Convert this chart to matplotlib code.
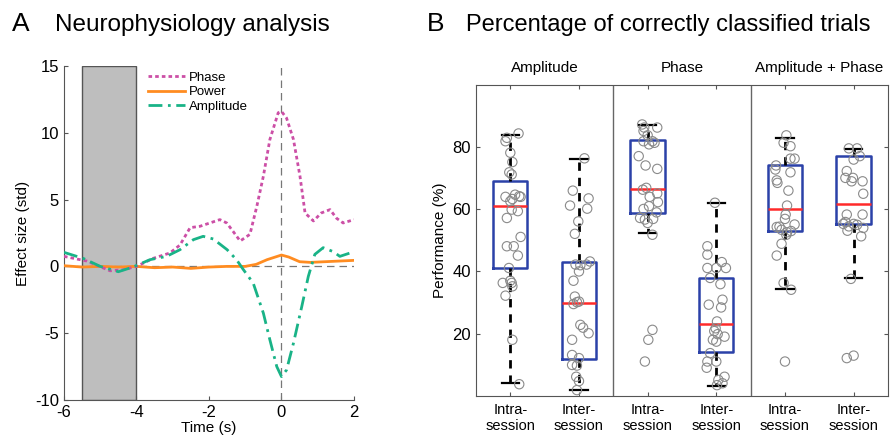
import matplotlib.pyplot as plt
import numpy as np

plt.rcParams['font.family'] = ['Liberation Sans', 'DejaVu Sans']
plt.rcParams['axes.unicode_minus'] = False

# ---- panel A data ----
t_phase = [-6, -5.37, -4.73, -4.36, -4.0, -3.54, -3.08, -2.8, -2.52, -2.25, -1.7, -1.51,
           -1.33, -1.14, -0.87, -0.68, -0.5, -0.32, -0.09, 0.0, 0.14, 0.33, 0.51, 0.65,
           0.88, 1.1, 1.34, 1.52, 1.7, 2.0]
phase = [0.75, 0.4, -0.33, -0.25, 0.0, 0.6, 1.0, 1.6, 2.9, 3.0, 3.5, 3.25,
         2.6, 1.9, 2.4, 4.5, 6.75, 9.5, 11.5, 11.6, 11.1, 9.5, 6.75, 4.0,
         3.4, 4.0, 4.25, 3.6, 3.25, 3.5]

t_amp = [-6, -5.47, -5.0, -4.5, -4.1, -3.63, -3.17, -2.8, -2.43, -2.16, -1.88, -1.5,
         -1.24, -1.05, -0.78, -0.5, -0.32, -0.13, 0.0, 0.14, 0.33, 0.56, 0.74, 0.92,
         1.15, 1.43, 1.61, 2.0]
amp = [1.05, 0.6, 0.0, -0.4, -0.05, 0.5, 0.75, 1.25, 2.0, 2.25, 2.05, 1.25,
       0.5, -0.25, -1.25, -3.5, -5.5, -7.5, -8.25, -7.75, -5.75, -3.0, -0.75, 0.9,
       1.4, 1.1, 0.75, 1.1]

t_pow = [-6, -5.5, -5, -4.5, -4, -3.5, -3, -2.5, -2, -1.5, -1, -0.7, -0.4, 0, 0.2,
         0.5, 0.8, 1.2, 1.6, 2]
power = [0.05, -0.05, 0.0, -0.05, 0.0, -0.1, -0.05, -0.15, -0.05, 0.0, 0.0, 0.15, 0.5,
         0.85, 0.7, 0.35, 0.3, 0.35, 0.4, 0.45]

baseline = (-5.5, -4.0)

# ---- panel B data ----
groups = ['Amplitude', 'Phase', 'Amplitude + Phase']
tick_labels = ['Intra-\nsession', 'Inter-\nsession'] * 3
# whislo, q1, med, q3, whishi
box_lo = [4.0, 1.8, 52.3, 3.1, 34.3, 38.0]
box_q1 = [41.0, 11.9, 58.9, 14.0, 53.0, 55.2]
box_med = [61.0, 29.9, 66.6, 23.0, 60.0, 61.6]
box_q3 = [69.0, 43.0, 82.3, 37.9, 74.1, 77.1]
box_hi = [84.0, 76.1, 87.0, 62.1, 83.1, 79.3]

pts_amp_intra = [84.4, 83.0, 81.9, 78.2, 75.2, 71.9, 71.2, 64.0, 63.3, 64.7, 64.2, 64.0, 62.6, 59.9,
                 59.4, 57.2, 51.1, 48.1, 48.1, 45.1, 41.1, 37.0, 36.3, 36.3, 35.2, 32.2, 18.0, 3.7]
jit_amp_intra = [0.12, -0.05, -0.07, 0, 0.03, -0.015, 0.02, -0.07, 0.03, 0.07, 0.13, 0.15, 0, 0.02,
                 0.11, -0.05, 0.15, -0.05, 0.05, 0.11, -0.02, 0, -0.11, 0.02, 0.03, -0.07, 0.03, 0.13]
pts_amp_inter = [76.4, 66.0, 63.5, 61.2, 60.2, 56.1, 52.1, 42.2, 42.0, 42.2, 43.2, 40.0, 37.0, 31.9,
                 29.5, 30.3, 30.1, 22.8, 21.9, 20.1, 18.0, 13.1, 12.1, 9.9, 9.7, 6.1, 4.7, 1.8]
jit_amp_inter = [0.08, -0.09, 0.14, -0.13, 0.12, -0.01, -0.06, -0.05, 0.02, 0.11, 0.16, 0, -0.08, -0.06,
                 -0.08, 0, -0.03, 0.02, 0.06, 0.14, -0.1, -0.1, 0, -0.1, -0.03, -0.04, 0, -0.03]
pts_ph_intra = [87.3, 86.3, 86.3, 85.2, 83.8, 81.9, 81.9, 80.9, 81.4, 77.1, 74.1, 73.0, 66.9, 66.3,
                64.0, 65.1, 62.3, 61.0, 60.1, 59.0, 57.2, 56.7, 56.9, 55.6, 51.8, 21.2, 18.0, 11.0]
jit_ph_intra = [-0.08, -0.05, 0.14, -0.06, 0, 0.07, -0.06, 0.02, 0.1, -0.13, -0.03, 0.14, -0.02, -0.07,
                0.03, 0.14, 0.15, 0.02, -0.06, 0.13, -0.11, -0.04, 0.08, 0, 0.07, 0.07, 0.01, -0.04]
pts_ph_inter = [62.1, 48.1, 45.4, 41.1, 41.1, 43.0, 41.1, 37.9, 35.9, 30.9, 29.3, 28.4, 23.9, 21.7,
                19.8, 19.0, 17.4, 13.7, 11.0, 11.0, 9.0, 5.1, 6.1, 4.0, 3.4, 18.0, 20.8]
jit_ph_inter = [-0.02, -0.13, -0.13, 0, -0.13, 0.08, 0.14, -0.09, 0.06, 0.09, -0.11, 0.07, 0.01, -0.01,
                0.02, 0.12, 0, -0.09, -0.13, 0, -0.14, 0.03, 0.12, 0.09, 0.01, -0.05, -0.03]
pts_ap_intra = [83.8, 81.4, 80.3, 76.3, 76.3, 74.1, 72.8, 71.9, 69.3, 68.5, 66.0, 61.2, 58.3, 56.9,
                55.1, 54.3, 54.4, 53.4, 52.6, 53.0, 51.8, 48.9, 45.1, 36.3, 34.1, 11.0]
jit_ap_intra = [0.02, -0.02, 0.08, 0.08, 0.14, -0.13, -0.14, 0.08, -0.12, -0.11, 0.05, 0.03, 0.01, 0,
                0.14, -0.12, -0.08, -0.05, 0.03, 0.09, 0.02, -0.05, -0.12, -0.02, 0.09, 0]
pts_ap_inter = [79.6, 79.6, 76.0, 77.1, 72.3, 70.1, 70.1, 69.0, 69.0, 65.0, 58.3, 58.3, 55.9, 55.3,
                55.3, 55.0, 54.5, 53.1, 54.0, 51.3, 37.6, 12.1, 12.9]
jit_ap_inter = [-0.07, 0.05, 0, 0.09, -0.1, -0.12, -0.01, -0.03, 0.13, 0.14, -0.1, 0.13, -0.12, -0.15,
                0, 0.05, -0.07, -0.09, 0.14, 0.11, -0.04, -0.1, 0]

points = [pts_amp_intra, pts_amp_inter, pts_ph_intra, pts_ph_inter, pts_ap_intra, pts_ap_inter]
jitter = [jit_amp_intra, jit_amp_inter, jit_ph_intra, jit_ph_inter, jit_ap_intra, jit_ap_inter]

fig = plt.figure(figsize=(8.91, 4.37), dpi=100)

# ================= panel A =================
axA = fig.add_axes([0.0718, 0.0847, 0.3255, 0.7643])
axA.axvspan(baseline[0], baseline[1], facecolor='#bebebe', edgecolor='#555555', lw=1.0, zorder=1)
axA.axhline(0, color='#777777', lw=0.9, ls=(0, (6, 4)), zorder=2)
axA.axvline(0, color='#777777', lw=0.9, ls=(0, (6, 4)), zorder=2)
axA.plot(t_phase, phase, color='#cc4fa6', lw=2, ls=(0, (1.3, 1.1)), label='Phase', zorder=4)
axA.plot(t_pow, power, color='#ff8c21', lw=2, label='Power', zorder=3)
axA.plot(t_amp, amp, color='#19b387', lw=2, ls=(0, (5, 2, 1, 2)), label='Amplitude', zorder=4)
axA.set_xlim(-6, 2)
axA.set_ylim(-10, 15)
axA.set_xticks([-6, -4, -2, 0, 2])
axA.set_yticks([-10, -5, 0, 5, 10, 15])
axA.spines['top'].set_visible(False)
axA.spines['right'].set_visible(False)
for s in ['left', 'bottom']:
    axA.spines[s].set_color('#555555')
axA.tick_params(direction='in', labelsize=12, length=3, color='#555555')
axA.set_xlabel('Time (s)', fontsize=11, labelpad=1)
axA.set_ylabel('Effect size (std)', fontsize=11, labelpad=4)
axA.legend(loc='upper left', bbox_to_anchor=(0.25, 1.018), frameon=False, fontsize=9.5,
           handlelength=2.8, handletextpad=0.3, labelspacing=0.15)
fig.text(0.013, 0.93, 'A', fontsize=19)
fig.text(0.216, 0.928, 'Neurophysiology analysis', fontsize=17.5, ha='center')

# ================= panel B =================
axB = fig.add_axes([0.5342, 0.0945, 0.4624, 0.711])
pos = np.arange(1, 7)
stats = []
for i in range(6):
    stats.append(dict(whislo=box_lo[i], q1=box_q1[i], med=box_med[i], q3=box_q3[i], whishi=box_hi[i]))
axB.bxp(stats, positions=pos, widths=0.5, showfliers=False, capwidths=0.25,
        boxprops=dict(color='#2b41a8', lw=1.8),
        medianprops=dict(color='#ff2a2a', lw=1.8),
        whiskerprops=dict(color='black', lw=2, ls=(0, (3, 2.5))),
        capprops=dict(color='black', lw=1.6))
for i in range(6):
    axB.scatter(pos[i] + np.array(jitter[i]), points[i], s=45, facecolors='none',
                edgecolors='#8a8a8a', linewidths=0.8, zorder=5)
for xd in [2.5, 4.5]:
    axB.axvline(xd, color='#666666', lw=1.0)
axB.set_xlim(0.5, 6.5)
axB.set_ylim(0, 100)
axB.set_yticks([20, 40, 60, 80])
axB.set_xticks(pos)
axB.set_xticklabels(tick_labels, fontsize=10.5)
axB.tick_params(direction='in', labelsize=12, length=3, top=True, right=True, color='#555555')
axB.tick_params(axis='x', labelsize=10.5, pad=5)
for s in axB.spines.values():
    s.set_color('#555555')
axB.set_ylabel('Performance (%)', fontsize=11, labelpad=4)
for k, g in enumerate(groups):
    axB.text(1.5 + 2 * k, 1.055, g, transform=axB.get_xaxis_transform(), ha='center',
             va='center', fontsize=11)
fig.text(0.479, 0.93, 'B', fontsize=19)
fig.text(0.75, 0.928, 'Percentage of correctly classified trials', fontsize=17, ha='center')

fig.savefig('out.png', dpi=100)
